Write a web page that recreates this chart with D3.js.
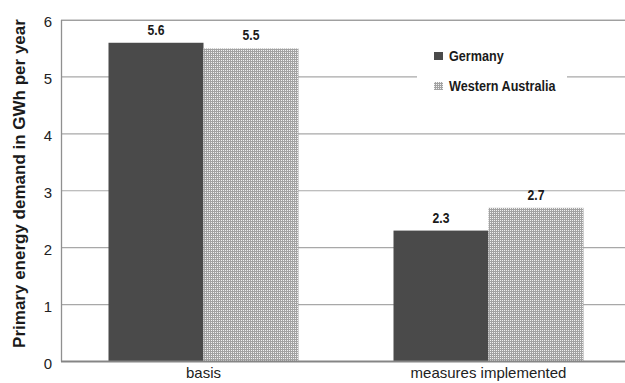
<!DOCTYPE html>
<html>
<head>
<meta charset="utf-8">
<script src="https://cdn.jsdelivr.net/npm/d3@7"></script>
<style>
  html, body { margin: 0; padding: 0; background: #fff; }
  svg { display: block; font-family: "Liberation Sans", Arial, sans-serif; }
</style>
</head>
<body>
<svg id="chart" width="625" height="383"></svg>
<script>
// Primary energy demand per scenario, two regions
const categories = ["basis", "measures implemented"];
const seriesNames = ["Germany", "Western Australia"];
const germany = [5.6, 2.3];
const westernAustralia = [5.5, 2.7];
const yTicks = [0, 1, 2, 3, 4, 5, 6];
const yTitle = "Primary energy demand in GWh per year";

const svg = d3.select("#chart");
const margin = { left: 61, top: 20 };
const plotW = 570;             // plot runs a little past the right edge
const plotH = 341.5;
const condense = 0.87;         // narrow bold labels

const defs = svg.append("defs");
const pat = defs.append("pattern")
  .attr("id", "dots")
  .attr("patternUnits", "userSpaceOnUse")
  .attr("width", 2).attr("height", 2);
pat.append("rect").attr("width", 2).attr("height", 2).attr("fill", "#a2a2a2");
pat.append("rect").attr("width", 1).attr("height", 1).attr("fill", "#f2f2f2");

const colors = { "Germany": "#4a4a4a", "Western Australia": "url(#dots)" };

const g = svg.append("g").attr("transform", `translate(${margin.left},${margin.top})`);

const x0 = d3.scaleBand().domain(categories).range([0, plotW]).paddingInner(0).paddingOuter(0);
const x1 = d3.scaleBand().domain(seriesNames).range([0, x0.bandwidth()]).paddingInner(0).paddingOuter(0.5);
const y = d3.scaleLinear().domain([0, 6]).range([plotH, 0]);

// gridlines
g.append("g").selectAll("line").data(yTicks.filter(t => t > 0)).join("line")
  .attr("x1", 0).attr("x2", plotW)
  .attr("y1", d => y(d)).attr("y2", d => y(d))
  .attr("stroke", "#a8a8a8").attr("stroke-width", 1.2);

// y axis labels
const yAxis = d3.axisLeft(y).tickValues(yTicks).tickFormat(d3.format("d")).tickSize(0).tickPadding(9);
const ya = g.append("g").call(yAxis);
ya.select(".domain").remove();
ya.selectAll("text").attr("font-size", 15).attr("fill", "#222").attr("dy", "0.45em")
  .attr("font-family", "'Liberation Sans', Arial, sans-serif");

// bars
const rows = categories.map((c, i) => ({
  cat: c,
  vals: [{ s: "Germany", v: germany[i] }, { s: "Western Australia", v: westernAustralia[i] }]
}));

const grp = g.append("g").selectAll("g").data(rows).join("g")
  .attr("transform", d => `translate(${x0(d.cat)},0)`);

grp.selectAll("rect").data(d => d.vals).join("rect")
  .attr("x", d => x1(d.s))
  .attr("width", x1.bandwidth())
  .attr("y", d => y(d.v))
  .attr("height", d => plotH - y(d.v))
  .attr("fill", d => colors[d.s]);

grp.selectAll("text.val").data(d => d.vals).join("text")
  .attr("class", "val")
  .attr("transform", d => `translate(${x1(d.s) + x1.bandwidth() / 2},${y(d.v) - 8}) scale(${condense},1)`)
  .attr("text-anchor", "middle")
  .attr("font-size", 14).attr("font-weight", "bold").attr("fill", "#1a1a1a")
  .text(d => d.v.toFixed(1));

// frame: top, left and bottom lines
g.append("line").attr("x1", 0).attr("x2", plotW).attr("y1", 0.5).attr("y2", 0.5)
  .attr("stroke", "#a0a0a0").attr("stroke-width", 1.2);
g.append("line").attr("x1", 0.5).attr("x2", 0.5).attr("y1", 0).attr("y2", plotH)
  .attr("stroke", "#909090").attr("stroke-width", 1.3);
g.append("line").attr("x1", 0).attr("x2", plotW).attr("y1", plotH).attr("y2", plotH)
  .attr("stroke", "#858585").attr("stroke-width", 1.8);

// category labels
const xAxis = d3.axisBottom(x0).tickSize(0).tickPadding(6);
const xa = g.append("g").attr("transform", `translate(0,${plotH})`).call(xAxis);
xa.select(".domain").remove();
xa.selectAll("text").attr("font-size", 15).attr("fill", "#222")
  .attr("font-family", "'Liberation Sans', Arial, sans-serif");

// y axis title
svg.append("text")
  .attr("transform", `translate(25,183.5) rotate(-90)`)
  .attr("text-anchor", "middle")
  .attr("font-size", 17).attr("font-weight", "bold").attr("fill", "#1a1a1a")
  .text(yTitle);

// legend
const leg = svg.append("g").attr("transform", "translate(417,40)");
leg.append("rect").attr("x", 0).attr("y", 0).attr("width", 150).attr("height", 58).attr("fill", "#fff");
const li = leg.selectAll("g").data(seriesNames).join("g")
  .attr("transform", (d, i) => `translate(17,${12 + i * 30})`);
li.append("rect").attr("width", 9).attr("height", 8).attr("fill", d => colors[d]);
li.append("text")
  .attr("transform", `translate(15,8.5) scale(${condense},1)`)
  .attr("font-size", 14.5).attr("font-weight", "bold").attr("fill", "#1a1a1a")
  .text(d => d);
</script>
</body>
</html>
